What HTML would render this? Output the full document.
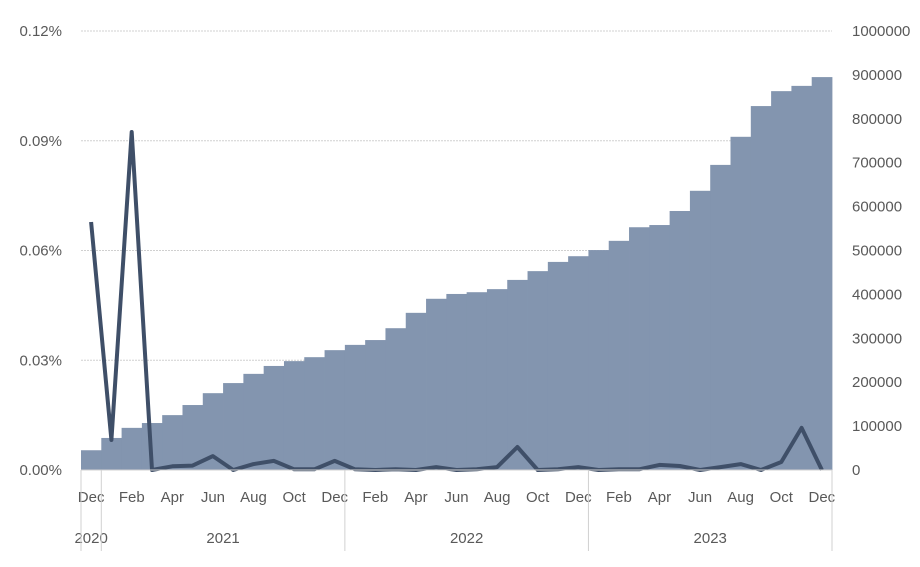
<!DOCTYPE html>
<html><head><meta charset="utf-8"><style>
body{margin:0;background:#fff;}
svg{display:block;font-family:"Liberation Sans",sans-serif;}
</style></head><body>
<svg id="chart" width="920" height="567"></svg>
<script>
const months=["Dec","Jan","Feb","Mar","Apr","May","Jun","Jul","Aug","Sep","Oct","Nov","Dec","Jan","Feb","Mar","Apr","May","Jun","Jul","Aug","Sep","Oct","Nov","Dec","Jan","Feb","Mar","Apr","May","Jun","Jul","Aug","Sep","Oct","Nov","Dec"];
const years=[{label:"2020",start:0,end:1},{label:"2021",start:1,end:13},{label:"2022",start:13,end:25},{label:"2023",start:25,end:37}];
const cumulative=[45000,73000,96000,107000,125000,148000,175000,198000,219000,237000,248000,257000,273000,285000,296000,323000,358000,390000,401000,405000,412000,433000,453000,474000,487000,501000,522000,553000,558000,590000,636000,695000,759000,829000,863000,875000,895000];
const rate=[0.0678,0.0082,0.0924,0,0.001,0.0012,0.0038,0,0.0016,0.0025,0.0002,0.0002,0.0025,0.0002,0,0.0002,0,0.0008,0,0.0002,0.0008,0.0063,0,0.0002,0.0008,0,0.0002,0.0002,0.0014,0.0011,0,0.0008,0.0016,0,0.0022,0.0115,0];
const leftTicks=[0,0.03,0.06,0.09,0.12];
const leftLabels=["0.00%","0.03%","0.06%","0.09%","0.12%"];
const rightTicks=[0,100000,200000,300000,400000,500000,600000,700000,800000,900000,1000000];

const svg=document.getElementById('chart');
const NS="http://www.w3.org/2000/svg";
const X0=81,X1=832,Y0=470,Y1=31;
const bw=(X1-X0)/months.length;
const xL=i=>X0+i*bw;
const yL=v=>Y0-(v/0.12)*(Y0-Y1);
const yR=v=>Y0-(v/1000000)*(Y0-Y1);
function mk(t,a,p){const e=document.createElementNS(NS,t);for(const k in a)e.setAttribute(k,a[k]);(p||svg).appendChild(e);return e;}

leftTicks.forEach((v,i)=>{
  if(v>0){const g=mk('line',{x1:X0,x2:X1,y1:yL(v),y2:yL(v),stroke:'#d0d0d0','stroke-width':1,'stroke-dasharray':'2,1'});
  
  }
  const t=mk('text',{x:62,y:yL(v)+5,'text-anchor':'end','font-size':15,fill:'#595959'});t.textContent=leftLabels[i];
  
  
});
rightTicks.forEach(v=>{
  const t=mk('text',{x:852,y:yR(v)+5,'font-size':15,fill:'#595959'});t.textContent=String(v);
  
  
});
cumulative.forEach((v,i)=>{
  const r=mk('rect',{x:xL(i),y:yR(v),width:bw+0.4,height:Y0-yR(v),fill:'#8395af'});
  
  
});
const pts=rate.map((v,i)=>(xL(i)+bw/2).toFixed(1)+","+yL(v).toFixed(1)).join(" ");
const pl=mk('polyline',{points:pts,fill:'none',stroke:'#3f4f68','stroke-width':4,'stroke-linejoin':'round'});


mk('line',{x1:X0,x2:X1,y1:Y0,y2:Y0,stroke:'#d0d0d0'});
months.forEach((m,i)=>{
  if(i%2===0){const t=mk('text',{x:xL(i)+bw/2,y:502,'text-anchor':'middle','font-size':15,fill:'#595959'});t.textContent=m;
  
  }
});
years.forEach(y=>{
  const t=mk('text',{x:(xL(y.start)+xL(y.end))/2,y:543,'text-anchor':'middle','font-size':15,fill:'#595959'});t.textContent=y.label;
  
  
  mk('line',{x1:xL(y.start),x2:xL(y.start),y1:Y0,y2:551,stroke:'#d0d0d0'});
});
mk('line',{x1:X1,x2:X1,y1:Y0,y2:551,stroke:'#d0d0d0'});
</script>
</body></html>
